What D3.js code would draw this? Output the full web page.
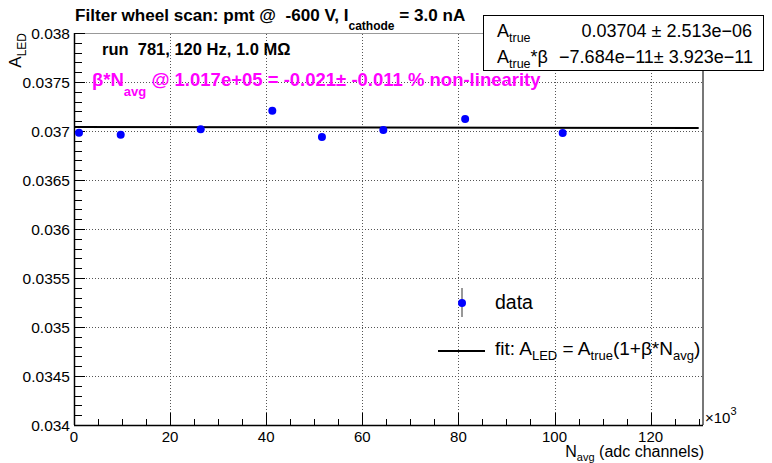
<!DOCTYPE html>
<html><head><meta charset="utf-8">
<script src="https://cdn.jsdelivr.net/npm/d3@7"></script>
<style>
body{margin:0;background:#fff;}
svg{font-family:"Liberation Sans",Arial,Helvetica,sans-serif;}
text{white-space:pre;}
</style></head>
<body><svg id="c" width="772" height="463"></svg>
<script>
// data (x in units of 10^3 adc channels)
const nAvg   = [1.04, 9.72, 26.37, 41.27, 51.6, 64.37, 81.4, 101.7];
const aLed   = [0.036983, 0.036962, 0.037017, 0.037207, 0.036939, 0.037010, 0.037122, 0.036980];
const aErr   = [0.0000025, 0.0000025, 0.0000025, 0.0000025, 0.0000025, 0.0000025, 0.0000025, 0.0000025];
const fitA   = 0.03704;      // A_true
const fitAB  = -7.684e-11;   // A_true*beta (per adc channel)
const xTicks = [0, 20, 40, 60, 80, 100, 120];
const yTicks = [0.034, 0.0345, 0.035, 0.0355, 0.036, 0.0365, 0.037, 0.0375, 0.038];
const yTickLabels = ["0.034","0.0345","0.035","0.0355","0.036","0.0365","0.037","0.0375","0.038"];

const L=74, R=703, T=33, B=425;
const svg = d3.select("#c");
const x = d3.scaleLinear().domain([0,130.9]).range([L,R]);
const y = d3.scaleLinear().domain([0.034,0.038]).range([B,T]);

// grid
const g = svg.append("g");
g.selectAll(".gx").data(xTicks.filter(d=>d>0)).enter().append("line")
 .attr("x1",d=>Math.round(x(d))+0.5).attr("x2",d=>Math.round(x(d))+0.5).attr("y1",B).attr("y2",T)
 .attr("stroke","#555").attr("stroke-width",1).attr("stroke-dasharray","1,2");
g.selectAll(".gy").data(yTicks.filter(d=>d>0.034 && d<0.038)).enter().append("line")
 .attr("x1",L).attr("x2",R).attr("y1",d=>Math.round(y(d))+0.5).attr("y2",d=>Math.round(y(d))+0.5)
 .attr("stroke","#555").attr("stroke-width",1).attr("stroke-dasharray","1,2");

// frame top/right
svg.append("line").attr("x1",L).attr("x2",R).attr("y1",T+0.5).attr("y2",T+0.5).attr("stroke","#999").attr("stroke-width",1);
svg.append("line").attr("x1",R).attr("x2",R).attr("y1",T).attr("y2",B).attr("stroke","#777").attr("stroke-width",2);

// x axis
const xAxis = d3.axisBottom(x).tickValues(d3.range(0,131,5)).tickSize(0).tickFormat("");
const xa = svg.append("g").attr("transform",`translate(0,${B})`).call(xAxis);
xa.select(".domain").remove();
d3.range(0,131,5).forEach(v=>{
  const maj = v%20===0;
  svg.append("line").attr("x1",Math.round(x(v))+0.5).attr("x2",Math.round(x(v))+0.5)
   .attr("y1",B).attr("y2",B-(maj?12:6)).attr("stroke","#000").attr("stroke-width",1);
});
svg.append("line").attr("x1",L).attr("x2",R).attr("y1",B+0.5).attr("y2",B+0.5).attr("stroke","#000").attr("stroke-width",1.5);
svg.selectAll(".xl").data(xTicks).enter().append("text")
 .attr("x",d=>x(d)).attr("y",442).attr("text-anchor","middle").attr("font-size",15).text(d=>d);
const xm = svg.append("text").attr("x",705).attr("y",423).attr("font-size",15);
xm.append("tspan").text("×10");
xm.append("tspan").attr("dy",-8).attr("font-size",11).text("3");
const xt = svg.append("text").attr("x",704).attr("y",457).attr("text-anchor","end").attr("font-size",16);
xt.append("tspan").text("N");
xt.append("tspan").attr("dy",4).attr("font-size",11).text("avg");
xt.append("tspan").attr("dy",-4).text(" (adc channels)");

// y axis
const yminor = d3.range(0,41).map(i=>0.034+i*0.0001);
yminor.forEach((v,i)=>{
  const maj = i%5===0;
  const yy = Math.round(y(v))+0.5;
  svg.append("line").attr("x1",L).attr("x2",L+(maj?11:8)).attr("y1",yy).attr("y2",yy).attr("stroke","#000").attr("stroke-width",1);
});
svg.append("line").attr("x1",L+0.5).attr("x2",L+0.5).attr("y1",T).attr("y2",B).attr("stroke","#000").attr("stroke-width",1.5);
svg.selectAll(".yl").data(yTicks).enter().append("text")
 .attr("x",70).attr("y",d=>y(d)+6).attr("text-anchor","end").attr("font-size",15.5)
 .text((d,i)=>yTickLabels[i]);
const yt = svg.append("text").attr("transform","translate(21,33) rotate(-90)").attr("text-anchor","end").attr("font-size",17);
yt.append("tspan").text("A");
yt.append("tspan").attr("dy",5).attr("font-size",12).text("LED");

// fit line
const fitX = [0, 130];
svg.append("line")
 .attr("x1",x(fitX[0])).attr("x2",x(fitX[1]))
 .attr("y1",y(fitA+fitAB*fitX[0]*1000)).attr("y2",y(fitA+fitAB*fitX[1]*1000))
 .attr("stroke","#000").attr("stroke-width",2);

// data
svg.selectAll(".eb").data(nAvg).enter().append("line")
 .attr("x1",d=>x(d)).attr("x2",d=>x(d))
 .attr("y1",(d,i)=>y(aLed[i]-aErr[i])).attr("y2",(d,i)=>y(aLed[i]+aErr[i]))
 .attr("stroke","#333").attr("stroke-width",1);
svg.selectAll(".pt").data(nAvg).enter().append("circle")
 .attr("cx",d=>x(d)).attr("cy",(d,i)=>y(aLed[i])).attr("r",4).attr("fill","#0000ff");

// title
const tt = svg.append("text").attr("x",75).attr("y",21).attr("font-size",17.1).attr("font-weight","bold");
tt.append("tspan").text("Filter wheel scan: pmt @  -600 V, I");
tt.append("tspan").attr("dy",9).attr("font-size",12).text("cathode");
tt.append("tspan").attr("dy",-9).text(" = 3.0 nA");

svg.append("text").attr("x",102).attr("y",55).attr("font-size",16.5).attr("font-weight","bold")
 .text("run  781, 120 Hz, 1.0 MΩ");
const mt = svg.append("text").attr("x",92).attr("y",86).attr("font-size",18.5).attr("font-weight","bold").attr("fill","#ff00ff");
mt.append("tspan").text("β*N");
mt.append("tspan").attr("dy",10).attr("font-size",13).text("avg");
mt.append("tspan").attr("dy",-10).text(" @ 1.017e+05 = -0.021± -0.011 % non-linearity");

// stats box
svg.append("rect").attr("x",483.5).attr("y",15.5).attr("width",280).attr("height",55)
 .attr("fill","#fff").attr("stroke","#000").attr("stroke-width",1);
const s1 = svg.append("text").attr("x",497).attr("y",37).attr("font-size",18);
s1.append("tspan").text("A");
s1.append("tspan").attr("dy",5).attr("font-size",12.5).text("true");
svg.append("text").attr("x",752).attr("y",37).attr("text-anchor","end").attr("font-size",18).text("0.03704 ± 2.513e−06");
const s2 = svg.append("text").attr("x",497).attr("y",63).attr("font-size",18);
s2.append("tspan").text("A");
s2.append("tspan").attr("dy",5).attr("font-size",12.5).text("true");
s2.append("tspan").attr("dy",-5).text("*β");
svg.append("text").attr("x",753).attr("y",63).attr("text-anchor","end").attr("font-size",18).text("−7.684e−11± 3.923e−11");

// legend
svg.append("line").attr("x1",462).attr("x2",462).attr("y1",288).attr("y2",317).attr("stroke","#333").attr("stroke-width",1);
svg.append("circle").attr("cx",462).attr("cy",303).attr("r",4).attr("fill","#0000ff");
svg.append("text").attr("x",495).attr("y",309).attr("font-size",19.5).text("data");
svg.append("line").attr("x1",438).attr("x2",485).attr("y1",351).attr("y2",351).attr("stroke","#000").attr("stroke-width",2);
const lf = svg.append("text").attr("x",495).attr("y",355).attr("font-size",19);
lf.append("tspan").text("fit: A");
lf.append("tspan").attr("dy",5).attr("font-size",13).text("LED");
lf.append("tspan").attr("dy",-5).text(" = A");
lf.append("tspan").attr("dy",5).attr("font-size",13).text("true");
lf.append("tspan").attr("dy",-5).text("(1+β*N");
lf.append("tspan").attr("dy",5).attr("font-size",13).text("avg");
lf.append("tspan").attr("dy",-5).text(")");
</script></body></html>
